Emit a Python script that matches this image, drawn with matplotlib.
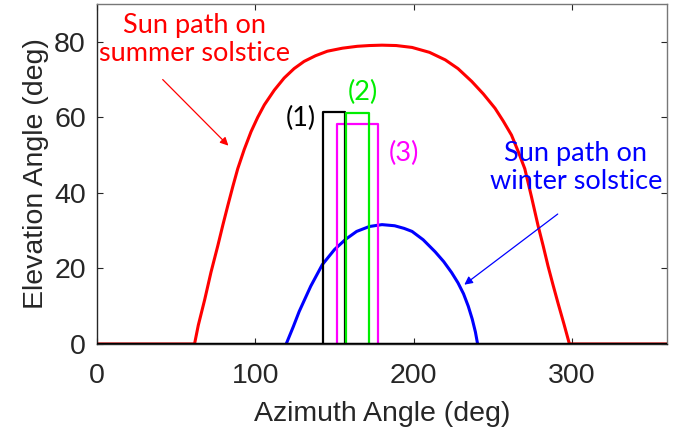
"""
Sun path on summer / winter solstice with three shading windows.
"""

import matplotlib
matplotlib.use('Agg')
import matplotlib.pyplot as plt

# 太陽軌跡
summer_az = [0, 61.6, 64, 68, 72, 76.3, 79.5, 82.6, 85.8, 88.9, 93, 97.3, 101.5, 105.7,
             112, 118.2, 124.5, 130.8, 138, 145.5, 155, 164.4, 172, 180,
             189, 199, 210, 220, 228, 236.7, 244, 251.4, 256.6, 261.8, 266, 270.2,
             274.4, 278.6, 281.8, 284.9, 288, 291.2, 295, 298.4, 360]
summer_el = [0, 0, 5, 11.7, 19, 26, 31.5, 36.6, 41.7, 46.4, 51.5, 56.2, 60, 63.3,
             67.2, 70.4, 72.9, 74.8, 76.3, 77.5, 78.3, 78.8, 79.0, 79.1,
             79.0, 78.5, 77.2, 75.2, 72.9, 69.5, 66.2, 62.4, 59, 55.3, 51, 46.4,
             39, 31.3, 26, 20.6, 15.7, 10.8, 5.2, 0, 0]

winter_az = [119.5, 124, 127.7, 135, 142.3, 150, 157, 164, 172, 180, 188, 194,
             199, 206, 213.6, 219, 224, 228, 231.5, 234.5, 237, 239, 240.4]
winter_el = [0, 4.6, 8.6, 15.3, 21, 25, 27.7, 29.8, 31.1, 31.6, 31.3, 30.6,
             29.8, 27.6, 24.4, 21.8, 18.9, 16.2, 13.3, 10.0, 6.6, 3.2, 0]

# 三個窗口 (1)(2)(3)
win_labels = ['(1)', '(2)', '(3)']
win_left = [142.8, 157.4, 151.3]
win_right = [156.6, 171.7, 177.5]
win_top = [61.4, 61.2, 58.3]
win_colors = ['black', '#00ee00', '#ff00ff']
win_label_pos = [(129, 59.8), (168, 66.5), (194, 50.5)]

x_ticks = [0, 100, 200, 300]
y_ticks = [0, 20, 40, 60, 80]

fig = plt.figure(figsize=(6.84, 4.38), dpi=100)
ax = fig.add_axes([0.1418, 0.2146, 0.8333, 0.7763])

ax.plot(winter_az, winter_el, color='#0000ff', linewidth=2.2)
ax.plot(summer_az, summer_el, color='#ff0000', linewidth=2.2)

for i in [2, 0, 1]:
    l, r, t = win_left[i], win_right[i], win_top[i]
    ax.plot([l, l, r, r], [0, t, t, 0], color=win_colors[i], linewidth=1.6)

for i, lab in enumerate(win_labels):
    ax.text(win_label_pos[i][0], win_label_pos[i][1], lab, color=win_colors[i],
            fontsize=19.5, family='Lato', ha='center', va='center')

ax.axhline(0, color='black', linewidth=2.5, zorder=5)

# 註解文字與箭頭
ax.text(61.6, 80.6, 'Sun path on\nsummer solstice', color='#ff0000', fontsize=19.5,
        family='Lato', ha='center', va='center', linespacing=1.15)
ax.annotate('', xy=(83, 52.5), xytext=(41.5, 70),
            arrowprops=dict(arrowstyle='-|>', color='#ff0000', lw=0.9,
                            mutation_scale=12, shrinkA=0, shrinkB=0))

ax.text(302.5, 46.8, 'Sun path on\nwinter solstice', color='#0000ff', fontsize=19.5,
        family='Lato', ha='center', va='center', linespacing=1.15)
ax.annotate('', xy=(232, 15.7), xytext=(291, 34.4),
            arrowprops=dict(arrowstyle='-|>', color='#0000ff', lw=0.9,
                            mutation_scale=12, shrinkA=0, shrinkB=0))

ax.set_xlim(0, 360)
ax.set_ylim(0, 90)
ax.set_xticks(x_ticks)
ax.set_yticks(y_ticks)
ax.tick_params(direction='in', top=True, right=True, length=4, width=0.8,
               labelsize=20.5, colors='#262626')
ax.tick_params(axis='x', pad=14)
ax.tick_params(axis='y', pad=8)
for lab in ax.get_xticklabels() + ax.get_yticklabels():
    lab.set_family('Liberation Sans')
for side in ['left', 'bottom']:
    ax.spines[side].set_color('#262626')
for side in ['top', 'right']:
    ax.spines[side].set_color('#777777')
for sp in ax.spines.values():
    sp.set_linewidth(1.0)

ax.set_xlabel('Azimuth Angle (deg)', fontsize=20.5, family='Liberation Sans',
              color='#262626', labelpad=8)
ax.set_ylabel('Elevation Angle (deg)', fontsize=20.5, family='Liberation Sans',
              color='#262626', labelpad=4)

fig.savefig('out.png', dpi=100)
